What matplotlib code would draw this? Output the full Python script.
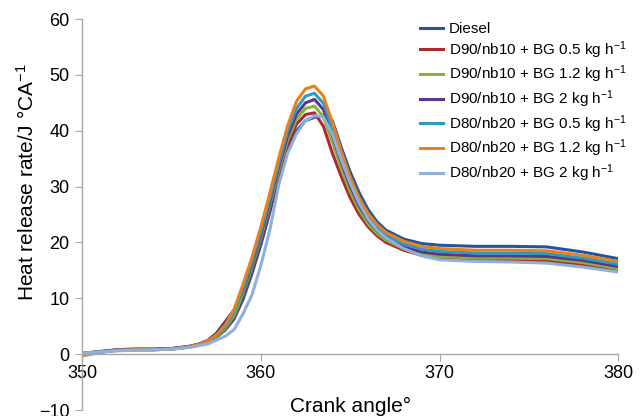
import numpy as np
import matplotlib
matplotlib.use("Agg")
import matplotlib.pyplot as plt

plt.rcParams['font.family'] = ['Liberation Sans', 'DejaVu Sans']
plt.rcParams['mathtext.fontset'] = 'custom'
plt.rcParams['mathtext.rm'] = 'Liberation Sans'
plt.rcParams['mathtext.it'] = 'Liberation Sans'

# crank angle grid (deg)
crank = [350, 351, 352, 353, 354, 355, 356, 356.5, 357, 357.5, 358, 358.5,
         359, 359.5, 360, 360.5, 361, 361.5, 362, 362.5, 363, 363.5, 364,
         364.5, 365, 365.5, 366, 366.5, 367, 368, 369, 370, 372, 374, 376,
         378, 380]

# heat release rate (J/degCA)
diesel = [0.2, 0.4, 0.7, 0.8, 0.8, 0.9, 1.3, 1.6, 2.1, 3.0, 4.3, 6.3,
          9.8, 14.4, 19.6, 25.4, 31.3, 36.6, 40.0, 41.8, 42.4, 42.6, 41.8,
          37.0, 32.6, 28.9, 25.9, 23.7, 22.2, 20.6, 19.8, 19.5, 19.3, 19.3, 19.2,
          18.3, 17.1]
d90_05 = [0.1, 0.5, 0.8, 0.9, 0.9, 1.0, 1.4, 1.7, 2.2, 3.1, 4.5, 6.7,
          10.5, 15.2, 20.5, 26.3, 32.3, 37.6, 41.2, 42.9, 43.2, 40.8, 36.0,
          31.8, 28.0, 25.0, 22.8, 21.2, 20.0, 18.6, 17.7, 17.1, 16.8, 16.8, 16.7,
          16.0, 15.0]
d90_12 = [0.1, 0.4, 0.7, 0.8, 0.8, 0.9, 1.3, 1.7, 2.2, 3.1, 4.6, 6.9,
          10.9, 15.6, 20.9, 26.8, 32.9, 38.4, 42.1, 44.0, 44.4, 42.5, 38.0,
          33.2, 29.1, 25.8, 23.3, 21.6, 20.4, 18.9, 17.9, 17.5, 17.2, 17.2, 17.1,
          16.4, 15.3]
d90_2 = [0.1, 0.4, 0.8, 0.9, 0.9, 1.0, 1.4, 1.8, 2.4, 3.7, 5.8, 7.9,
         11.4, 16.1, 21.4, 27.3, 33.5, 39.1, 43.0, 45.0, 45.6, 43.8, 39.2,
         34.4, 30.1, 26.6, 24.0, 22.1, 20.8, 19.2, 18.3, 17.9, 17.6, 17.6, 17.5,
         16.8, 15.7]
d80_05 = [0.1, 0.4, 0.7, 0.8, 0.8, 0.9, 1.3, 1.7, 2.2, 3.2, 4.9, 7.4,
          11.7, 16.5, 21.9, 27.8, 34.1, 39.9, 44.0, 46.2, 46.7, 44.9, 40.4,
          35.4, 31.0, 27.4, 24.7, 22.7, 21.3, 19.7, 18.8, 18.4, 18.1, 18.1, 18.0,
          17.2, 16.1]
d80_12 = [-0.3, 0.3, 0.7, 0.8, 0.8, 0.9, 1.3, 1.7, 2.3, 3.4, 5.2, 8.0,
          12.5, 17.3, 22.8, 28.8, 35.1, 40.9, 45.3, 47.5, 48.0, 46.2, 41.5,
          36.3, 31.7, 28.0, 25.2, 23.2, 21.8, 20.2, 19.3, 18.9, 18.6, 18.6, 18.5,
          17.7, 16.6]
d80_2 = [0.2, 0.4, 0.6, 0.7, 0.8, 0.9, 1.2, 1.5, 1.8, 2.5, 3.2, 4.4,
         7.2, 10.6, 15.9, 22.2, 30.3, 36.0, 39.5, 41.8, 42.7, 42.5, 39.4,
         34.8, 30.6, 27.0, 24.2, 22.2, 20.8, 18.9, 17.6, 16.9, 16.6, 16.5, 16.3,
         15.6, 14.7]

unit = r' kg h$^{\mathregular{-1}}$'
labels = ['Diesel',
          'D90/nb10 + BG 0.5' + unit,
          'D90/nb10 + BG 1.2' + unit,
          'D90/nb10 + BG 2' + unit,
          'D80/nb20 + BG 0.5' + unit,
          'D80/nb20 + BG 1.2' + unit,
          'D80/nb20 + BG 2' + unit]
series = [diesel, d90_05, d90_12, d90_2, d80_05, d80_12, d80_2]
colors = ['#22549f', '#b3282d', '#86b13a', '#5b3590', '#2b9cbd', '#e8801f', '#8fb0dc']

fig = plt.figure(figsize=(6.42, 4.16), dpi=100)
ax = fig.add_axes([0.128, 0.0144, 0.835, 0.9399])

for vals, lab, col in zip(series, labels, colors):
    ax.plot(crank, vals, color=col, lw=2.2, label=lab, solid_joinstyle='round')

ax.set_xlim(350, 380)
ax.set_ylim(-10, 60)
ax.set_xticks([350, 360, 370, 380])
ax.set_yticks(np.arange(-10, 61, 10))
ax.set_yticklabels(['\u221210', '0', '10', '20', '30', '40', '50', '60'])

ax.spines['top'].set_visible(False)
ax.spines['right'].set_visible(False)
ax.spines['bottom'].set_position(('data', 0))
for s in ['left', 'bottom']:
    ax.spines[s].set_color('#a6a6a6')
    ax.spines[s].set_linewidth(1)
ax.tick_params(axis='both', colors='#a6a6a6', labelcolor='black', labelsize=13, length=5)
ax.tick_params(axis='x', pad=3)
ax.tick_params(axis='y', pad=4)

ax.set_xlabel('Crank angle\u00b0', fontsize=15)
ax.xaxis.set_label_coords(0.5, 0.034)
ax.set_ylabel('Heat release rate/J \u00b0CA$^{\\mathregular{-1}}$', fontsize=15)
ax.yaxis.set_label_coords(-0.082, 0.583)

fig.legend(loc='upper left', bbox_to_anchor=(420 / 642, 1 - 22 / 416),
           frameon=False, fontsize=11, handlelength=1.5, handletextpad=0.4,
           labelspacing=0.2, borderpad=0, borderaxespad=0)

fig.savefig('out.png', dpi=100)
